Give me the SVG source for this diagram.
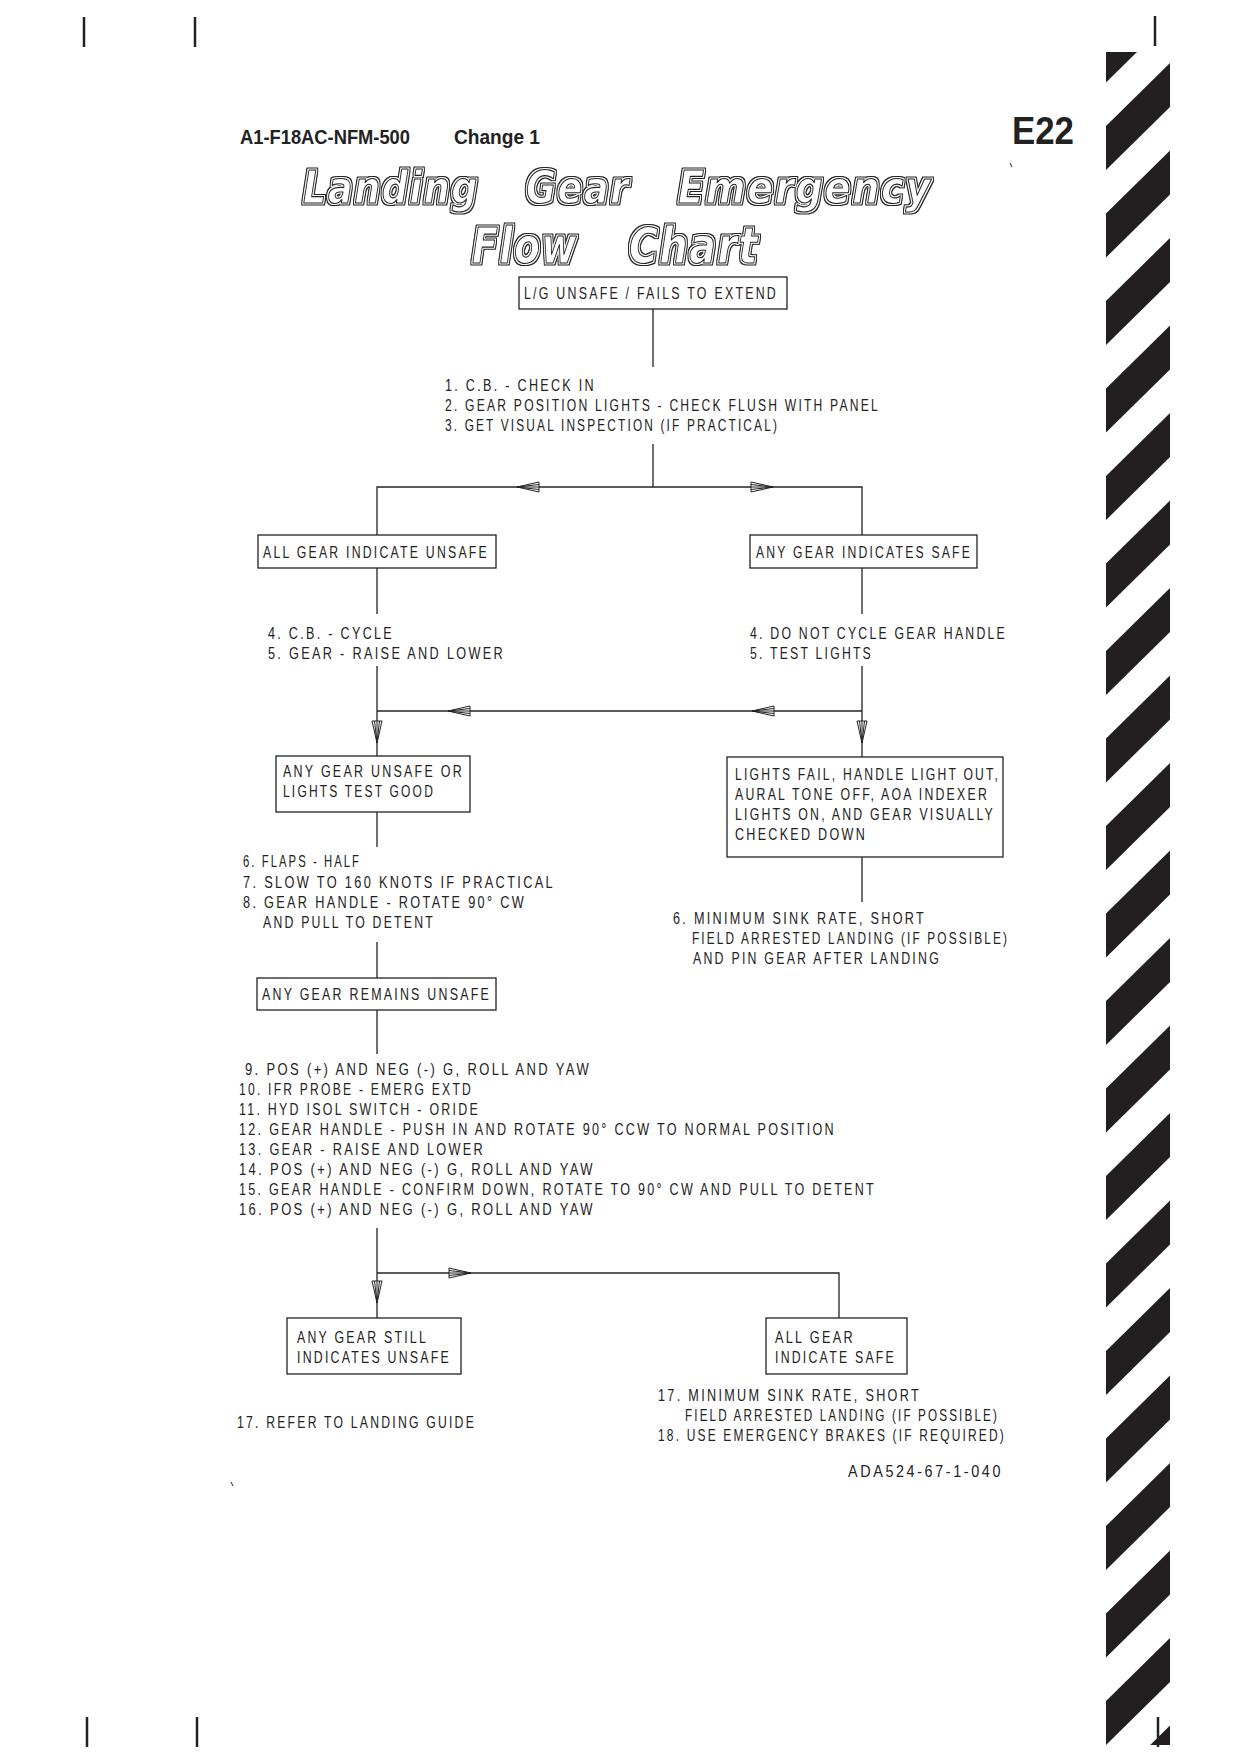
<svg xmlns="http://www.w3.org/2000/svg" width="1240" height="1754" viewBox="0 0 1240 1754">
<style>
.t{font-family:'Liberation Sans',Arial,sans-serif;font-size:16.5px;letter-spacing:3px;fill:#222}
.h{font-family:'Liberation Sans',Arial,sans-serif;font-weight:bold;fill:#222}
.ttl{font-family:'DejaVu Sans',sans-serif;font-style:italic;font-weight:bold;letter-spacing:2px;fill:#fff;stroke:#222;stroke-width:1.1;stroke-linejoin:round;filter:url(#dbl)}
.box{fill:none;stroke:#222;stroke-width:1.3}
.ln{fill:none;stroke:#222;stroke-width:1.3}
.arr{marker-end:url(#ah)}
.crop{stroke:#222;stroke-width:2.5}
.stripe{fill:#231f20}
</style>
<defs>
<marker id="ah" viewBox="0 0 24 12" refX="23" refY="6" markerWidth="24" markerHeight="12" markerUnits="userSpaceOnUse" orient="auto">
<path d="M1,1 L23,6 L1,11 Z M1,3.5 L23,6 L1,8.5 M1,6 L23,6" fill="#fff" stroke="#222" stroke-width="1"/>
</marker>
<filter id="dbl" x="-5%" y="-20%" width="110%" height="140%">
<feMorphology in="SourceAlpha" operator="dilate" radius="2.0" result="d2"/>
<feMorphology in="SourceAlpha" operator="dilate" radius="1.1" result="d1"/>
<feComposite in="d2" in2="d1" operator="out" result="ring"/>
<feFlood flood-color="#222"/>
<feComposite in2="ring" operator="in" result="ringc"/>
<feMerge><feMergeNode in="ringc"/><feMergeNode in="SourceGraphic"/></feMerge>
</filter>
<clipPath id="stripClip"><rect x="1100" y="52" width="80" height="1693"/></clipPath>
</defs>
<rect width="1240" height="1754" fill="#fff"/>

<g id="crop-marks">
<line class="crop" x1="84" y1="17" x2="84" y2="47"/>
<line class="crop" x1="195" y1="17" x2="195" y2="47"/>
<line class="crop" x1="1155" y1="16" x2="1155" y2="46"/>
<line class="crop" x1="87" y1="1717" x2="87" y2="1747"/>
<line class="crop" x1="197" y1="1717" x2="197" y2="1747"/>
<line class="crop" x1="1158" y1="1717" x2="1158" y2="1747"/>
<path d="M1010,163 L1012,167" stroke="#222" stroke-width="1"/>
<path d="M231,1482 L233,1486" stroke="#222" stroke-width="1"/>
</g>

<g id="edge-stripes" clip-path="url(#stripClip)">
<polygon class="stripe" points="1106,38.5 1170,-24.5 1170,19.5 1106,82.5"/>
<polygon class="stripe" points="1106,126 1170,63 1170,107 1106,170"/>
<polygon class="stripe" points="1106,213.5 1170,150.5 1170,194.5 1106,257.5"/>
<polygon class="stripe" points="1106,301 1170,238 1170,282 1106,345"/>
<polygon class="stripe" points="1106,388.5 1170,325.5 1170,369.5 1106,432.5"/>
<polygon class="stripe" points="1106,476 1170,413 1170,457 1106,520"/>
<polygon class="stripe" points="1106,563.5 1170,500.5 1170,544.5 1106,607.5"/>
<polygon class="stripe" points="1106,651 1170,588 1170,632 1106,695"/>
<polygon class="stripe" points="1106,738.5 1170,675.5 1170,719.5 1106,782.5"/>
<polygon class="stripe" points="1106,826 1170,763 1170,807 1106,870"/>
<polygon class="stripe" points="1106,913.5 1170,850.5 1170,894.5 1106,957.5"/>
<polygon class="stripe" points="1106,1001 1170,938 1170,982 1106,1045"/>
<polygon class="stripe" points="1106,1088.5 1170,1025.5 1170,1069.5 1106,1132.5"/>
<polygon class="stripe" points="1106,1176 1170,1113 1170,1157 1106,1220"/>
<polygon class="stripe" points="1106,1263.5 1170,1200.5 1170,1244.5 1106,1307.5"/>
<polygon class="stripe" points="1106,1351 1170,1288 1170,1332 1106,1395"/>
<polygon class="stripe" points="1106,1438.5 1170,1375.5 1170,1419.5 1106,1482.5"/>
<polygon class="stripe" points="1106,1526 1170,1463 1170,1507 1106,1570"/>
<polygon class="stripe" points="1106,1613.5 1170,1550.5 1170,1594.5 1106,1657.5"/>
<polygon class="stripe" points="1106,1701 1170,1638 1170,1682 1106,1745"/>
<polygon class="stripe" points="1106,1788.5 1170,1725.5 1170,1769.5 1106,1832.5"/>
</g>

<g id="header">
<text class="h" x="240" y="144" font-size="20" textLength="170" lengthAdjust="spacingAndGlyphs">A1-F18AC-NFM-500</text>
<text class="h" x="454" y="144" font-size="20" textLength="86" lengthAdjust="spacingAndGlyphs">Change 1</text>
<text class="h" x="1012" y="144" font-size="38" textLength="62" lengthAdjust="spacingAndGlyphs">E22</text>
</g>

<g id="title">
<text class="ttl" x="303" y="203" font-size="44" textLength="176" lengthAdjust="spacingAndGlyphs">Landing</text>
<text class="ttl" x="526" y="203" font-size="44" textLength="104" lengthAdjust="spacingAndGlyphs">Gear</text>
<text class="ttl" x="678" y="203" font-size="44" textLength="254" lengthAdjust="spacingAndGlyphs">Emergency</text>
<text class="ttl" x="472" y="263" font-size="50" textLength="106" lengthAdjust="spacingAndGlyphs">Flow</text>
<text class="ttl" x="629" y="263" font-size="50" textLength="130" lengthAdjust="spacingAndGlyphs">Chart</text>
</g>

<g id="connectors">
<path class="ln" d="M653,309 V367"/>
<path class="ln" d="M653,444 V487"/>
<path class="ln arr" d="M653,487 H517"/>
<path class="ln" d="M517,487 H377 V535"/>
<path class="ln arr" d="M653,487 H773"/>
<path class="ln" d="M773,487 H862 V535"/>
<path class="ln" d="M377,568 V614"/>
<path class="ln" d="M862,568 V614"/>
<path class="ln arr" d="M377,666 V743"/>
<path class="ln" d="M377,743 V756"/>
<path class="ln arr" d="M862,666 V743"/>
<path class="ln" d="M862,743 V757"/>
<path class="ln arr" d="M862,711 H752"/>
<path class="ln arr" d="M752,711 H448"/>
<path class="ln" d="M448,711 H377"/>
<path class="ln" d="M377,812 V847"/>
<path class="ln" d="M377,942 V978"/>
<path class="ln" d="M862,857 V902"/>
<path class="ln" d="M377,1010 V1054"/>
<path class="ln arr" d="M377,1228 V1303"/>
<path class="ln" d="M377,1303 V1318"/>
<path class="ln arr" d="M377,1273 H471"/>
<path class="ln" d="M471,1273 H839 V1318"/>
</g>

<g id="n-start">
<rect class="box" x="519" y="277" width="268" height="32"/>
<text class="t" x="524" y="299" textLength="254" lengthAdjust="spacingAndGlyphs">L/G UNSAFE / FAILS TO EXTEND</text>
</g>

<g id="steps-1-3">
<text class="t" x="445" y="391" textLength="151" lengthAdjust="spacingAndGlyphs">1. C.B. - CHECK IN</text>
<text class="t" x="445" y="411" textLength="435" lengthAdjust="spacingAndGlyphs">2. GEAR POSITION LIGHTS - CHECK FLUSH WITH PANEL</text>
<text class="t" x="445" y="431" textLength="334" lengthAdjust="spacingAndGlyphs">3. GET VISUAL INSPECTION (IF PRACTICAL)</text>
</g>

<g id="n-all-unsafe">
<rect class="box" x="258" y="535" width="238" height="33"/>
<text class="t" x="263" y="558" textLength="226" lengthAdjust="spacingAndGlyphs">ALL GEAR INDICATE UNSAFE</text>
</g>

<g id="n-any-safe">
<rect class="box" x="750" y="535" width="227" height="33"/>
<text class="t" x="756" y="558" textLength="216" lengthAdjust="spacingAndGlyphs">ANY GEAR INDICATES SAFE</text>
</g>

<g id="steps-left-4-5">
<text class="t" x="268" y="639" textLength="126" lengthAdjust="spacingAndGlyphs">4. C.B. - CYCLE</text>
<text class="t" x="268" y="659" textLength="237" lengthAdjust="spacingAndGlyphs">5. GEAR - RAISE AND LOWER</text>
</g>

<g id="steps-right-4-5">
<text class="t" x="750" y="639" textLength="257" lengthAdjust="spacingAndGlyphs">4. DO NOT CYCLE GEAR HANDLE</text>
<text class="t" x="750" y="659" textLength="123" lengthAdjust="spacingAndGlyphs">5. TEST LIGHTS</text>
</g>

<g id="n-unsafe-or-good">
<rect class="box" x="276" y="756" width="194" height="56"/>
<text class="t" x="283" y="777" textLength="181" lengthAdjust="spacingAndGlyphs">ANY GEAR UNSAFE OR</text>
<text class="t" x="283" y="797" textLength="152" lengthAdjust="spacingAndGlyphs">LIGHTS TEST GOOD</text>
</g>

<g id="n-lights-fail">
<rect class="box" x="727" y="757" width="276" height="100"/>
<text class="t" x="735" y="780" textLength="265" lengthAdjust="spacingAndGlyphs">LIGHTS FAIL, HANDLE LIGHT OUT,</text>
<text class="t" x="735" y="800" textLength="254" lengthAdjust="spacingAndGlyphs">AURAL TONE OFF, AOA INDEXER</text>
<text class="t" x="735" y="820" textLength="260" lengthAdjust="spacingAndGlyphs">LIGHTS ON, AND GEAR VISUALLY</text>
<text class="t" x="735" y="840" textLength="132" lengthAdjust="spacingAndGlyphs">CHECKED DOWN</text>
</g>

<g id="steps-left-6-8">
<text class="t" x="243" y="867" textLength="118" lengthAdjust="spacingAndGlyphs">6. FLAPS - HALF</text>
<text class="t" x="243" y="888" textLength="312" lengthAdjust="spacingAndGlyphs">7. SLOW TO 160 KNOTS IF PRACTICAL</text>
<text class="t" x="243" y="908" textLength="283" lengthAdjust="spacingAndGlyphs">8. GEAR HANDLE - ROTATE 90° CW</text>
<text class="t" x="263" y="928" textLength="172" lengthAdjust="spacingAndGlyphs">AND PULL TO DETENT</text>
</g>

<g id="steps-right-6">
<text class="t" x="673" y="924" textLength="253" lengthAdjust="spacingAndGlyphs">6. MINIMUM SINK RATE, SHORT</text>
<text class="t" x="692" y="944" textLength="317" lengthAdjust="spacingAndGlyphs">FIELD ARRESTED LANDING (IF POSSIBLE)</text>
<text class="t" x="693" y="964" textLength="248" lengthAdjust="spacingAndGlyphs">AND PIN GEAR AFTER LANDING</text>
</g>

<g id="n-remains-unsafe">
<rect class="box" x="257" y="978" width="239" height="32"/>
<text class="t" x="262" y="1000" textLength="229" lengthAdjust="spacingAndGlyphs">ANY GEAR REMAINS UNSAFE</text>
</g>

<g id="steps-9-16">
<text class="t" x="245" y="1075" textLength="346" lengthAdjust="spacingAndGlyphs">9. POS (+) AND NEG (-) G, ROLL AND YAW</text>
<text class="t" x="239" y="1095" textLength="234" lengthAdjust="spacingAndGlyphs">10. IFR PROBE - EMERG EXTD</text>
<text class="t" x="239" y="1115" textLength="241" lengthAdjust="spacingAndGlyphs">11. HYD ISOL SWITCH - ORIDE</text>
<text class="t" x="239" y="1135" textLength="597" lengthAdjust="spacingAndGlyphs">12. GEAR HANDLE - PUSH IN AND ROTATE 90° CCW TO NORMAL POSITION</text>
<text class="t" x="239" y="1155" textLength="246" lengthAdjust="spacingAndGlyphs">13. GEAR - RAISE AND LOWER</text>
<text class="t" x="239" y="1175" textLength="356" lengthAdjust="spacingAndGlyphs">14. POS (+) AND NEG (-) G, ROLL AND YAW</text>
<text class="t" x="239" y="1195" textLength="637" lengthAdjust="spacingAndGlyphs">15. GEAR HANDLE - CONFIRM DOWN, ROTATE TO 90° CW AND PULL TO DETENT</text>
<text class="t" x="239" y="1215" textLength="356" lengthAdjust="spacingAndGlyphs">16. POS (+) AND NEG (-) G, ROLL AND YAW</text>
</g>

<g id="n-still-unsafe">
<rect class="box" x="287" y="1318" width="174" height="56"/>
<text class="t" x="297" y="1343" textLength="131" lengthAdjust="spacingAndGlyphs">ANY GEAR STILL</text>
<text class="t" x="297" y="1363" textLength="154" lengthAdjust="spacingAndGlyphs">INDICATES UNSAFE</text>
</g>

<g id="n-all-safe">
<rect class="box" x="766" y="1318" width="141" height="56"/>
<text class="t" x="775" y="1343" textLength="80" lengthAdjust="spacingAndGlyphs">ALL GEAR</text>
<text class="t" x="775" y="1363" textLength="121" lengthAdjust="spacingAndGlyphs">INDICATE SAFE</text>
</g>

<g id="step-17-left">
<text class="t" x="237" y="1428" textLength="239" lengthAdjust="spacingAndGlyphs">17. REFER TO LANDING GUIDE</text>
</g>

<g id="steps-17-18-right">
<text class="t" x="658" y="1401" textLength="263" lengthAdjust="spacingAndGlyphs">17. MINIMUM SINK RATE, SHORT</text>
<text class="t" x="685" y="1421" textLength="314" lengthAdjust="spacingAndGlyphs">FIELD ARRESTED LANDING (IF POSSIBLE)</text>
<text class="t" x="658" y="1441" textLength="348" lengthAdjust="spacingAndGlyphs">18. USE EMERGENCY BRAKES (IF REQUIRED)</text>
</g>

<g id="figure-id">
<text class="t" x="848" y="1477" textLength="155" lengthAdjust="spacingAndGlyphs">ADA524-67-1-040</text>
</g>
</svg>
